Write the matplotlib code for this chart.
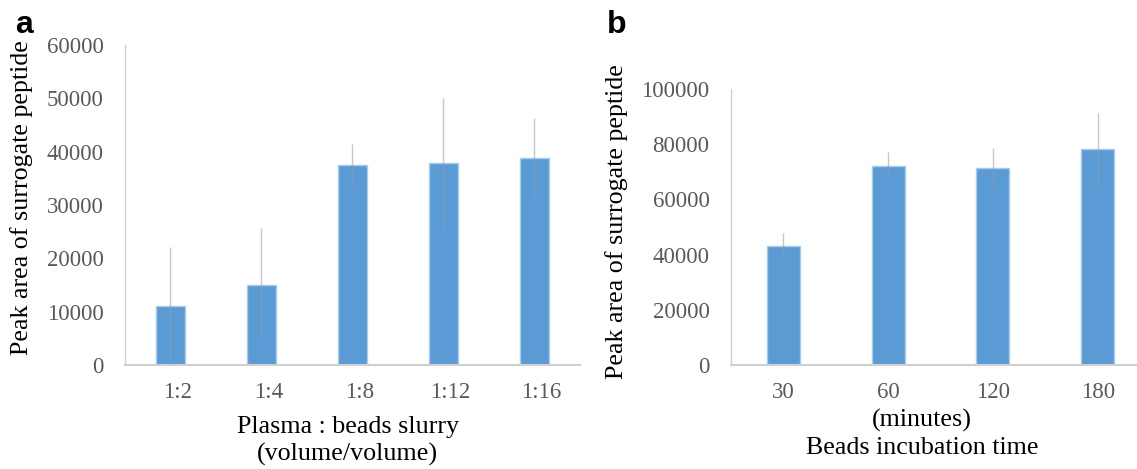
import matplotlib
matplotlib.use("Agg")
import matplotlib.pyplot as plt
from matplotlib.transforms import ScaledTranslation

# panel a: plasma to beads slurry ratio
ratios = ['1:2', '1:4', '1:8', '1:12', '1:16']
area_a = [11000, 15000, 37500, 37800, 38750]
err_a = [11200, 10600, 4000, 12300, 7500]

# panel b: incubation time (minutes)
times = ['30', '60', '120', '180']
area_b = [43000, 72000, 71400, 78100]
err_b = [4700, 5100, 7200, 13200]

plt.rcParams['font.family'] = ['Liberation Serif', 'DejaVu Serif']

bar_col = '#5B9BD5'
edge_col = '#A9CBEB'
tick_col = '#595959'
axis_col = '#D0D0D0'
LBL = 18.7

fig = plt.figure(figsize=(11.37, 4.69), dpi=100)
ax1 = fig.add_axes([0.1099, 0.2217, 0.4002, 0.6823])
ax2 = fig.add_axes([0.643, 0.2217, 0.3685, 0.5885])


def style(ax, labels, vals, errs, ymax, step):
    x = range(len(labels))
    ax.bar(x, vals, width=0.315, color=bar_col, edgecolor=edge_col, linewidth=1, zorder=2)
    ax.errorbar(x, vals, yerr=errs, fmt='none', ecolor='#9A9A9A', alpha=0.55,
                elinewidth=1, capsize=0, zorder=3)
    ax.set_xlim(-0.5, len(labels) - 0.5)
    ax.set_ylim(0, ymax)
    ax.set_yticks(range(0, ymax + 1, step))
    ax.set_xticks(list(x))
    ax.set_xticklabels(labels)
    ax.tick_params(axis='both', length=0, labelsize=16.5, labelcolor=tick_col)
    ax.tick_params(axis='x', pad=12)
    ax.tick_params(axis='y', pad=15.5)
    for s in ['top', 'right']:
        ax.spines[s].set_visible(False)
    ax.spines['left'].set_color(axis_col)
    ax.spines['bottom'].set_color(axis_col)
    ax.spines['bottom'].set_linewidth(1.5)
    ax.spines['left'].set_linewidth(1)


style(ax1, ratios, area_a, err_a, 60000, 10000)
style(ax2, times, area_b, err_b, 100000, 20000)

# category labels in panel a sit a little right of the bars
shift = ScaledTranslation(7 / 100, 0, fig.dpi_scale_trans)
for t in ax1.get_xticklabels():
    t.set_transform(t.get_transform() + shift)

ax1.set_ylabel('Peak area of surrogate peptide', fontsize=LBL)
ax1.yaxis.set_label_coords(-0.202, 0.522)
ax1.set_xlabel('Plasma : beads slurry\n(volume/volume)', fontsize=LBL, linespacing=1.3)
ax1.xaxis.set_label_coords(0.49, -0.158)
ax1.xaxis.label.set_va('top')

ax2.set_ylabel('Peak area of surrogate peptide', fontsize=LBL)
ax2.yaxis.set_label_coords(-0.245, 0.518)
ax2.set_xlabel('(minutes)\nBeads incubation time', fontsize=LBL, linespacing=1.25)
ax2.xaxis.set_label_coords(0.456, -0.16)
ax2.xaxis.label.set_va('top')

fig.text(0.013, 0.93, 'a', fontsize=23, fontweight='bold', family='Liberation Sans', va='baseline')
fig.text(0.534, 0.93, 'b', fontsize=23, fontweight='bold', family='Liberation Sans', va='baseline')

fig.savefig('out.png', dpi=100)
